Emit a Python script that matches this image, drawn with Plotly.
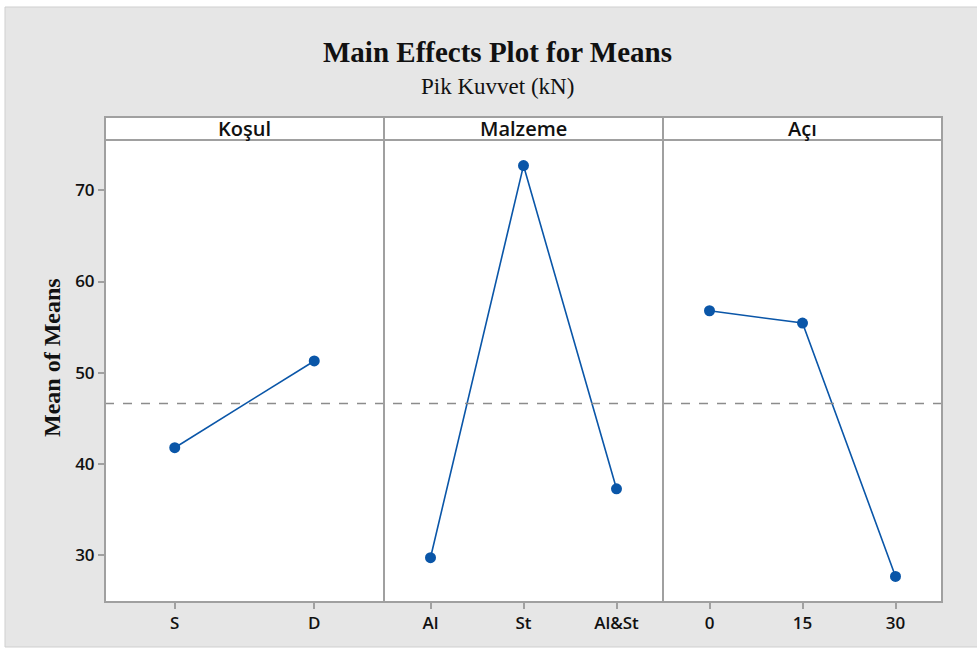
import plotly.graph_objects as go
from plotly.subplots import make_subplots

# Factor levels and their mean responses (Pik Kuvvet, kN)
kosul_levels = ["S", "D"]
kosul_means = [41.8, 51.3]

malzeme_levels = ["Al", "St", "Al&St"]
malzeme_means = [29.75, 72.7, 37.3]

aci_levels = ["0", "15", "30"]
aci_means = [56.8, 55.45, 27.7]

panel_titles = ["Koşul", "Malzeme", "Açı"]
grand_mean = 46.63
y_ticks = [30, 40, 50, 60, 70]

line_col = "#0a56a8"
frame_col = "#a0a0a0"
bg_col = "#e6e6e6"
sans = "Open Sans, Noto Sans, sans-serif"
serif = "Liberation Serif, Times New Roman, serif"

W, H = 977, 654
ml, mr, mt, mb = 105, 35, 140, 52
pw, ph = W - ml - mr, H - mt - mb

fig = make_subplots(rows=1, cols=3, shared_yaxes=True, horizontal_spacing=0)

groups = [(kosul_levels, kosul_means), (malzeme_levels, malzeme_means), (aci_levels, aci_means)]
for i, (levels, means) in enumerate(groups, start=1):
    fig.add_trace(
        go.Scatter(
            x=list(range(len(levels))), y=means, mode="lines+markers",
            line=dict(color=line_col, width=1.6),
            marker=dict(color=line_col, size=11),
            showlegend=False, hoverinfo="skip",
        ),
        row=1, col=i,
    )
    fig.update_xaxes(
        range=[-0.5, len(levels) - 0.5],
        tickmode="array", tickvals=list(range(len(levels))), ticktext=levels,
        ticks="outside", ticklen=6, tickwidth=1.5, tickcolor=frame_col,
        showline=False, showgrid=False, zeroline=False,
        tickfont=dict(family=sans, size=17, color="#111", weight=600),
        row=1, col=i,
    )
    fig.update_yaxes(
        range=[24.9, 75.5], tickvals=y_ticks,
        showline=False, showgrid=False, zeroline=False,
        ticks="outside" if i == 1 else "", ticklen=6, tickwidth=1.5, tickcolor=frame_col,
        showticklabels=(i == 1),
        tickfont=dict(family=sans, size=17, color="#111", weight=600),
        row=1, col=i,
    )

# Gray page background with thin light border
fig.add_shape(type="rect", xref="paper", yref="paper", layer="below",
              x0=(5 - ml) / pw, x1=(W + 5 - ml) / pw,
              y0=(H - mb - 647) / ph, y1=(H - mb - 7) / ph,
              fillcolor=bg_col, line=dict(color="#cfcfcf", width=1))

# White panel interiors
fig.add_shape(type="rect", xref="paper", yref="paper", layer="below",
              x0=0, x1=1, y0=0, y1=1, fillcolor="white", line=dict(width=0))

# Grand-mean reference line across all panels
fig.add_shape(type="line", xref="paper", yref="y", x0=0, x1=1, y0=grand_mean, y1=grand_mean,
              line=dict(color="#8c8c8c", width=1.5, dash="dash"))

# Panel frames and separators
fig.add_shape(type="rect", xref="paper", yref="paper", x0=0, x1=1, y0=0, y1=1,
              line=dict(color=frame_col, width=2))
for k in (1, 2):
    fig.add_shape(type="line", xref="paper", yref="paper", x0=k / 3, x1=k / 3, y0=0, y1=1,
                  line=dict(color=frame_col, width=2))

# Panel header strips
strip_top = 1 + 23 / ph
for k, name in enumerate(panel_titles):
    x0, x1 = k / 3, (k + 1) / 3
    fig.add_shape(type="rect", xref="paper", yref="paper", x0=x0, x1=x1, y0=1, y1=strip_top,
                  fillcolor="white", line=dict(color=frame_col, width=2))
    fig.add_annotation(xref="paper", yref="paper", x=(x0 + x1) / 2, y=(1 + strip_top) / 2,
                       text=name, showarrow=False, xanchor="center", yanchor="middle",
                       font=dict(family=sans, size=20, color="#111", weight=600))

fig.add_annotation(xref="paper", yref="paper", x=(497 - ml) / pw, y=(H - mb - 52) / ph,
                   text="<b>Main Effects Plot for Means</b>", showarrow=False, yanchor="middle",
                   font=dict(family=serif, size=29, color="#111"))
fig.add_annotation(xref="paper", yref="paper", x=(497 - ml) / pw, y=(H - mb - 87) / ph,
                   text="Pik Kuvvet (kN)", showarrow=False, yanchor="middle",
                   font=dict(family=serif, size=23, color="#111"))
fig.add_annotation(xref="paper", yref="paper", x=(52 - ml) / pw, y=(H - mb - 357) / ph,
                   text="<b>Mean of Means</b>", showarrow=False, textangle=-90,
                   xanchor="center", yanchor="middle",
                   font=dict(family=serif, size=24, color="#111"))

fig.update_layout(
    width=W, height=H,
    margin=dict(l=ml, r=mr, t=mt, b=mb),
    paper_bgcolor="white", plot_bgcolor="white",
)

fig.write_html("out.html")
